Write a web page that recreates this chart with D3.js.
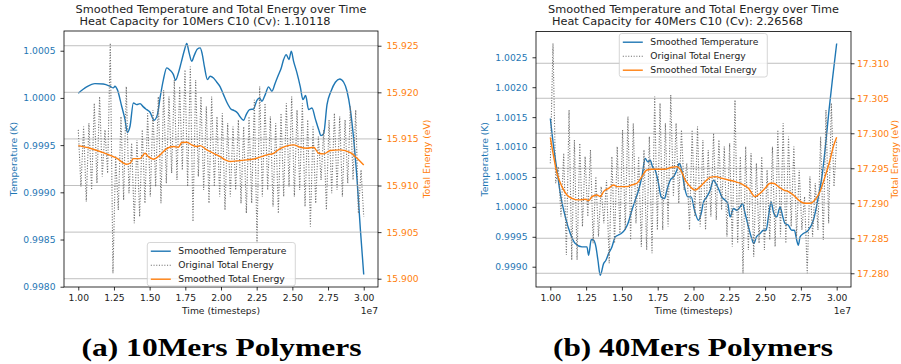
<!DOCTYPE html>
<html><head><meta charset="utf-8">
<script src="https://cdn.jsdelivr.net/npm/d3@7"></script>
<style>body{margin:0;background:#fff} svg{display:block}</style>
</head><body><svg id="c" width="901" height="364" font-family="DejaVu Sans, sans-serif"></svg>
<script>
// ---------- shared ----------
const timeTicks = [1.00,1.25,1.50,1.75,2.00,2.25,2.50,2.75,3.00];
const seriesNames = ["Smoothed Temperature","Original Total Energy","Smoothed Total Energy"];

// ---------- (a) 10Mers ----------
const titleA = ["Smoothed Temperature and Total Energy over Time"," Heat Capacity for 10Mers C10 (Cv): 1.10118"];
const captionA = "(a) 10Mers Polymers";
const tempTicksA = [0.9980,0.9985,0.9990,0.9995,1.0000,1.0005];
const energyTicksA = [15.900,15.905,15.910,15.915,15.920,15.925];
const tempTimeA = [1.000,1.0585,1.117,1.1754,1.2222,1.2456,1.2573,1.2737,1.3041,1.3275,1.3439,1.3626,1.3860,1.4094,1.4327,1.4561,1.4795,1.5029,1.5310,1.5544,1.5731,1.5965,1.6199,1.6433,1.6667,1.6807,1.7018,1.7205,1.7415,1.7602,1.7766,1.7953,1.8117,1.8351,1.8538,1.8678,1.8842,1.9053,1.9240,1.9474,1.9708,1.9942,2.0175,2.0409,2.0690,2.0924,2.1158,2.1345,2.1579,2.1766,2.2000,2.2281,2.2515,2.2702,2.2865,2.3099,2.3333,2.3567,2.3801,2.4035,2.4222,2.4386,2.4573,2.4760,2.4924,2.5088,2.5322,2.5556,2.5743,2.5930,2.6140,2.6374,2.6608,2.6842,2.7006,2.7193,2.7427,2.7708,2.8012,2.8316,2.8596,2.8830,2.9064,2.9298,2.9532,2.9766,3.0000];
const tempValA = [1.00005,1.000117,1.000152,1.000148,1.000124,1.000106,1.000124,1.000088,0.999912,0.999770,0.999636,0.999700,0.999947,0.999929,0.999940,0.999905,0.999876,0.999848,0.999763,0.999823,1.000000,1.000194,1.000318,1.000293,1.000247,1.000187,1.000265,1.000371,1.000494,1.000576,1.000477,1.000388,1.000448,1.000519,1.000530,1.000470,1.000328,1.000194,1.000230,1.000212,1.000166,1.000117,1.000035,0.999954,0.999883,0.999866,0.999841,0.999799,0.999763,0.999823,0.999876,0.999883,0.999975,1.000000,0.999965,1.000035,1.000117,1.000071,1.000159,1.000247,1.000318,1.000406,1.000459,1.000406,1.000494,1.000388,1.000265,1.000117,0.999982,1.000025,0.999876,0.999894,0.999778,0.999665,0.999601,0.999622,0.999929,1.000071,1.000166,1.000201,1.000166,1.000071,0.999876,0.999559,0.999135,0.998605,0.998129];
const energySmTimeA = [1.000,1.0819,1.1754,1.2690,1.3392,1.3626,1.3860,1.4327,1.4678,1.4912,1.5263,1.5731,1.6199,1.6667,1.7018,1.7251,1.7602,1.7953,1.8304,1.8538,1.9006,1.9474,1.9942,2.0292,2.0643,2.1111,2.1813,2.2515,2.3216,2.3684,2.4152,2.4620,2.5088,2.5556,2.6023,2.6491,2.6842,2.7193,2.7661,2.8363,2.9064,2.9532,3.0000];
const energySmValA = [15.91428,15.91400,15.91353,15.91293,15.91228,15.91239,15.91289,15.91289,15.91346,15.91310,15.91282,15.91328,15.91396,15.91418,15.91411,15.91461,15.91464,15.91436,15.91418,15.91428,15.91382,15.91346,15.91310,15.91275,15.91257,15.91264,15.91275,15.91293,15.91328,15.91346,15.91396,15.91425,15.91436,15.91411,15.91400,15.91411,15.91346,15.91339,15.91375,15.91382,15.91353,15.91293,15.91221];
const energyOrigA = [15.91597,15.90989,15.91632,15.90828,15.91668,15.90953,15.91883,15.91024,15.91954,15.91096,
15.91597,15.91132,15.92527,15.90058,15.91310,15.90738,15.91740,15.90845,15.92062,15.90917,
15.91454,15.90595,15.91489,15.90667,15.91597,15.90810,15.91775,15.90881,15.91811,15.90989,
15.91954,15.90810,15.92026,15.91024,15.91954,15.91132,15.92133,15.91060,15.92062,15.91167,
15.92240,15.90989,15.92276,15.90613,15.92133,15.91096,15.91954,15.90953,15.91847,15.90810,
15.91954,15.90989,15.91740,15.90881,15.91775,15.90738,15.91668,15.90881,15.91632,15.90953,
15.91704,15.90810,15.91632,15.90702,15.91740,15.90810,15.91919,15.90380,15.92062,15.90881,
15.91883,15.90953,15.91740,15.90774,15.91668,15.90702,15.91775,15.90881,15.91883,15.90989,
15.91954,15.90881,15.91811,15.90953,15.91883,15.90774,15.91704,15.90559,15.91632,15.90810,
15.91525,15.91060,15.91597,15.90738,15.91704,15.90917,15.91775,15.90953,15.91740,15.90881,
15.91704,15.91024,15.91847,15.91060,15.91811,15.90702,15.91167,15.90667];

// ---------- (b) 40Mers ----------
const titleB = ["Smoothed Temperature and Total Energy over Time"," Heat Capacity for 40Mers C10 (Cv): 2.26568"];
const captionB = "(b) 40Mers Polymers";
const tempTicksB = [0.9990,0.9995,1.0000,1.0005,1.0010,1.0015,1.0020,1.0025];
const energyTicksB = [17.280,17.285,17.290,17.295,17.300,17.305,17.310];
const tempTimeB = [1.000,1.0233,1.0465,1.0698,1.1047,1.1395,1.1744,1.2209,1.2558,1.2674,1.2860,1.3023,1.3186,1.3326,1.3488,1.3721,1.3884,1.4070,1.4302,1.4535,1.4721,1.4953,1.5186,1.5419,1.5698,1.5930,1.6163,1.6395,1.6628,1.6814,1.6977,1.7140,1.7326,1.7512,1.7744,1.7977,1.8140,1.8372,1.8605,1.8837,1.9000,1.9186,1.9372,1.9605,1.9837,2.0070,2.0349,2.0535,2.0698,2.0930,2.1163,2.1395,2.1628,2.1791,2.1977,2.2209,2.2395,2.2558,2.2791,2.3023,2.3256,2.3419,2.3605,2.3837,2.4070,2.4209,2.4395,2.4651,2.4884,2.5070,2.5233,2.5419,2.5581,2.5814,2.6047,2.6209,2.6395,2.6628,2.6860,2.7047,2.7209,2.7326,2.7442,2.7674,2.8023,2.8372,2.8721,2.9000,2.9233,2.9465,2.9698,3.0000];
const tempValB = [1.001477,1.001003,1.000613,1.000223,0.999833,0.999554,0.999387,0.999331,0.999331,0.999192,0.999454,0.999443,0.999331,0.999108,0.998857,0.999052,0.999108,0.999220,0.999331,0.999498,0.999526,0.999554,0.999610,0.999721,0.999944,1.000111,1.000279,1.000502,1.000808,1.000752,1.000780,1.000669,1.000613,1.000446,1.000167,1.000139,1.000279,1.000446,1.000502,1.000613,1.000725,1.000613,1.000334,1.000167,1.000167,0.999944,0.999777,0.999889,1.000084,1.000167,1.000279,1.000446,1.000362,1.000279,1.000167,1.000111,1.000056,0.999833,0.999972,0.999944,1.000000,1.000056,0.999889,0.999666,0.999470,0.999387,0.999498,0.999554,0.999610,0.999610,0.999833,1.000084,0.999916,0.999833,1.000000,0.999861,0.999721,0.999693,0.999610,0.999610,0.999443,0.999359,0.999498,0.999554,0.999610,0.999777,1.000167,1.000557,1.001059,1.001616,1.002118,1.002731];
const energySmTimeB = [1.000,1.0233,1.0465,1.0814,1.1163,1.1512,1.1977,1.2442,1.2674,1.2907,1.3256,1.3488,1.3721,1.4070,1.4419,1.4651,1.5000,1.5349,1.5698,1.6047,1.6395,1.6744,1.7093,1.7558,1.8023,1.8488,1.8837,1.9070,1.9419,1.9767,2.0116,2.0465,2.0814,2.1163,2.1512,2.1977,2.2442,2.2907,2.3372,2.3837,2.4302,2.4651,2.5000,2.5349,2.5581,2.5930,2.6279,2.6628,2.6977,2.7326,2.7791,2.8140,2.8488,2.8837,2.9186,2.9535,2.9767,3.0000];
const energySmValB = [17.29943,17.29667,17.29429,17.29238,17.29119,17.29071,17.29048,17.29057,17.29038,17.29095,17.29119,17.29095,17.29167,17.29214,17.29262,17.29238,17.29238,17.29238,17.29262,17.29286,17.29381,17.29476,17.29486,17.29486,17.29486,17.29514,17.29524,17.29486,17.29333,17.29238,17.29190,17.29238,17.29310,17.29371,17.29381,17.29357,17.29333,17.29310,17.29276,17.29214,17.29095,17.29143,17.29214,17.29286,17.29286,17.29238,17.29190,17.29167,17.29119,17.29048,17.29000,17.29000,17.29048,17.29167,17.29381,17.29619,17.29810,17.29943];
const energyOrigB = [17.29571,17.31286,17.29286,17.29524,17.28810,17.29714,17.28262,17.30333,17.28190,17.29905,
17.28190,17.29857,17.28667,17.29667,17.28810,17.29762,17.28429,17.29381,17.28524,17.29238,
17.28714,17.29333,17.28143,17.29667,17.28429,17.29810,17.28571,17.30048,17.28619,17.30238,
17.28476,17.30143,17.28714,17.29667,17.28381,17.29762,17.28333,17.29952,17.28286,17.30524,
17.28619,17.30429,17.28619,17.30143,17.28667,17.30548,17.29095,17.30143,17.29000,17.30048,
17.29190,17.29571,17.28619,17.30048,17.28810,17.30095,17.28667,17.29905,17.28619,17.29762,
17.28810,17.30000,17.28762,17.29905,17.28905,17.29810,17.28524,17.29857,17.28381,17.30476,
17.28429,17.29667,17.28000,17.29810,17.28333,17.29714,17.28238,17.29571,17.28429,17.29667,
17.28333,17.29476,17.28476,17.29810,17.28381,17.30048,17.28524,17.30143,17.28429,17.29952,
17.28667,17.29810,17.28524,17.29476,17.28619,17.29095,17.28000,17.29381,17.28524,17.29286,
17.28619,17.29952,17.28476,17.30333,17.28714,17.30429,17.29238,17.29905];

// ---------- drawing ----------
const BLUE = "#1f77b4", ORANGE = "#ff7f0e", GRAY = "#707070";
const svg = d3.select("#c");

function panel(o) {
  const g = svg.append("g");
  const x = d3.scaleLinear().domain([0.9, 3.1]).range([o.x0, o.x1]);
  const yT = d3.scaleLinear().domain(o.tDom).range([o.y1, o.y0]);
  const yE = d3.scaleLinear().domain(o.eDom).range([o.y1, o.y0]);
  const clipId = "clip" + o.id;
  svg.append("clipPath").attr("id", clipId).append("rect")
    .attr("x", o.x0).attr("y", o.y0).attr("width", o.x1 - o.x0).attr("height", o.y1 - o.y0);
  const plot = g.append("g").attr("clip-path", `url(#${clipId})`);

  plot.append("path").datum(d3.zip(o.tempTime, o.tempVal))
    .attr("fill", "none").attr("stroke", BLUE).attr("stroke-width", 1.4)
    .attr("stroke-linejoin", "round")
    .attr("d", d3.line().x(d => x(d[0])).y(d => yT(d[1])).curve(d3.curveMonotoneX));

  plot.append("g").selectAll("line").data(o.eTicks).join("line")
    .attr("x1", o.x0).attr("x2", o.x1)
    .attr("y1", d => yE(d)).attr("y2", d => yE(d))
    .attr("stroke", "#b0b0b0").attr("stroke-width", 0.8);

  const idx = d3.scaleLinear().domain([0, o.eOrig.length - 1]).range([1, 3]);
  plot.append("path").datum(o.eOrig)
    .attr("fill", "none").attr("stroke", GRAY).attr("stroke-width", 1.1)
    .attr("stroke-dasharray", "1.1,1.6")
    .attr("d", d3.line().x((d, i) => x(idx(i))).y(d => yE(d)));

  plot.append("path").datum(d3.zip(o.eSmTime, o.eSmVal))
    .attr("fill", "none").attr("stroke", ORANGE).attr("stroke-width", 1.4)
    .attr("stroke-linejoin", "round")
    .attr("d", d3.line().x(d => x(d[0])).y(d => yE(d[1])).curve(d3.curveMonotoneX));

  const fs = 9.2;
  const ax = g.append("g").attr("transform", `translate(0,${o.y1})`)
    .call(d3.axisBottom(x).tickValues(timeTicks).tickFormat(d3.format(".2f")).tickSize(3.5).tickPadding(3.5));
  const al = g.append("g").attr("transform", `translate(${o.x0},0)`)
    .call(d3.axisLeft(yT).tickValues(o.tTicks).tickFormat(d3.format(".4f")).tickSize(3.5).tickPadding(5));
  const ar = g.append("g").attr("transform", `translate(${o.x1},0)`)
    .call(d3.axisRight(yE).tickValues(o.eTicks).tickFormat(d3.format(".3f")).tickSize(3.5).tickPadding(o.rPad));
  [ax, al, ar].forEach(a => {
    a.attr("font-family", null).attr("font-size", null);
    a.select(".domain").remove();
    a.selectAll("line").attr("stroke", "#000").attr("stroke-width", 0.8);
    a.selectAll("text").attr("font-size", fs);
  });
  ax.selectAll("text").attr("fill", "#222");
  al.selectAll("text").attr("fill", BLUE);
  ar.selectAll("text").attr("fill", ORANGE);

  g.append("rect").attr("x", o.x0).attr("y", o.y0).attr("width", o.x1 - o.x0).attr("height", o.y1 - o.y0)
    .attr("fill", "none").attr("stroke", "#000").attr("stroke-width", 0.8);

  const cx = (o.x0 + o.x1) / 2, cy = (o.y0 + o.y1) / 2;
  g.append("text").attr("x", cx).attr("y", 313.5).attr("text-anchor", "middle")
    .attr("font-size", fs).attr("fill", "#222").text("Time (timesteps)");
  g.append("text").attr("x", o.x1).attr("y", 313.5).attr("text-anchor", "end")
    .attr("font-size", fs).attr("fill", "#222").text("1e7");
  g.append("text").attr("transform", `translate(${o.lLabX},${cy}) rotate(-90)`).attr("text-anchor", "middle")
    .attr("font-size", fs).attr("fill", BLUE).text("Temperature (K)");
  g.append("text").attr("transform", `translate(${o.rLabX},${cy}) rotate(-90)`).attr("text-anchor", "middle")
    .attr("font-size", fs).attr("fill", ORANGE).text("Total Energy (eV)");

  g.append("text").attr("x", cx).attr("y", 13.3).attr("text-anchor", "middle")
    .attr("font-size", 11.3).attr("fill", "#222").text(o.title[0]);
  g.append("text").attr("x", cx - 16).attr("y", 25.3).attr("text-anchor", "middle")
    .attr("font-size", 11.3).attr("fill", "#222").text(o.title[1].trim());

  const lg = g.append("g").attr("transform", `translate(${o.legX},${o.legY})`);
  lg.append("rect").attr("width", 148).attr("height", 43.5).attr("rx", 2.5)
    .attr("fill", "#fff").attr("fill-opacity", 0.8).attr("stroke", "#cccccc").attr("stroke-width", 0.8);
  const styles = [
    {c: BLUE, w: 1.4, dash: null},
    {c: GRAY, w: 1.1, dash: "1.1,1.6"},
    {c: ORANGE, w: 1.4, dash: null}
  ];
  seriesNames.forEach((name, i) => {
    const yy = 8.7 + i * 14;
    lg.append("line").attr("x1", 3.5).attr("x2", 23.5).attr("y1", yy).attr("y2", yy)
      .attr("stroke", styles[i].c).attr("stroke-width", styles[i].w)
      .attr("stroke-dasharray", styles[i].dash);
    lg.append("text").attr("x", 31).attr("y", yy).attr("dy", "0.35em")
      .attr("font-size", fs).attr("fill", "#222").text(name);
  });

  svg.append("text").attr("x", o.capX).attr("y", 355.5).attr("text-anchor", "middle")
    .style("font-family", "'Liberation Serif', 'DejaVu Serif', serif").style("font-weight", "bold")
    .style("font-size", "25px").attr("fill", "#000")
    .attr("textLength", 280).attr("lengthAdjust", "spacingAndGlyphs")
    .text(o.caption);
}

panel({
  id: "A", x0: 64, x1: 378, y0: 31, y1: 287,
  tDom: [0.997997, 1.000709], eDom: [15.89911, 15.92658],
  tTicks: tempTicksA, eTicks: energyTicksA,
  tempTime: tempTimeA, tempVal: tempValA,
  eSmTime: energySmTimeA, eSmVal: energySmValA, eOrig: energyOrigA,
  title: titleA, caption: captionA, capX: 221.5,
  lLabX: 16.5, rLabX: 430, rPad: 5,
  legX: 147.3, legY: 242.5
});
panel({
  id: "B", x0: 536, x1: 851, y0: 31.5, y1: 287,
  tDom: [0.998661, 1.002931], eDom: [17.27804, 17.31454],
  tTicks: tempTicksB, eTicks: energyTicksB,
  tempTime: tempTimeB, tempVal: tempValB,
  eSmTime: energySmTimeB, eSmVal: energySmValB, eOrig: energyOrigB,
  title: titleB, caption: captionB, capX: 693,
  lLabX: 488, rLabX: 898, rPad: 2.5,
  legX: 619.3, legY: 33.5
});
</script></body></html>
